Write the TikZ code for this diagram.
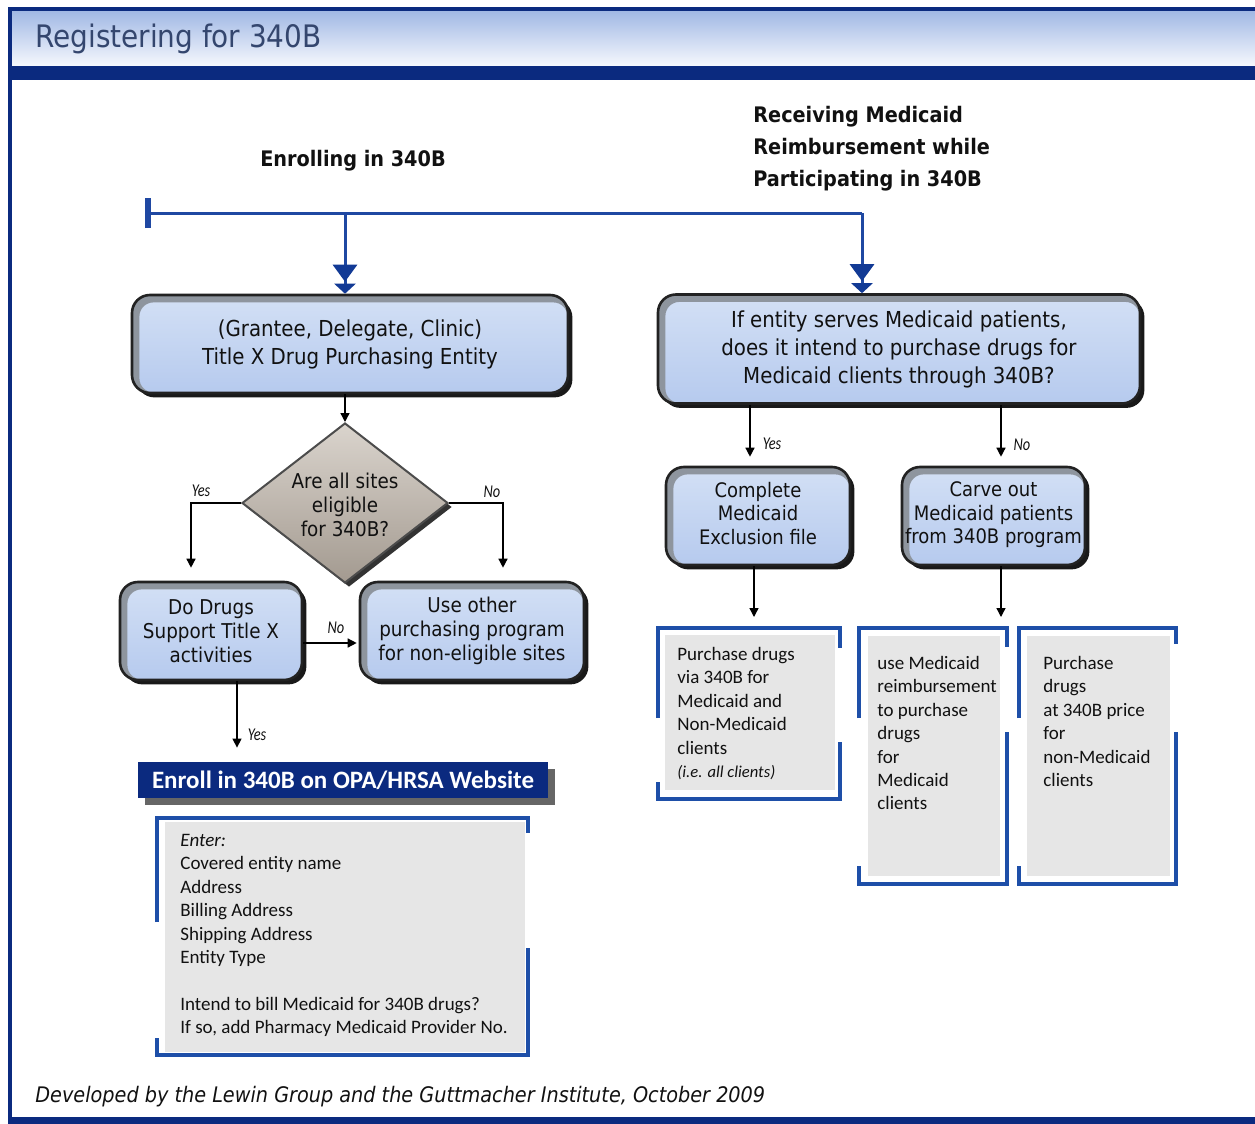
\documentclass[tikz,border=0pt]{standalone}
\usepackage{fontspec}
\setmainfont{DejaVu Sans Condensed}
\newfontfamily\calfont{Carlito}
\newfontfamily\lblfont[FakeStretch=0.8]{Carlito}
\usetikzlibrary{shapes.geometric,arrows.meta,shadows}
\definecolor{navy}{HTML}{0B2A7F}
\definecolor{bandtop}{HTML}{9FB7E4}
\definecolor{bandbot}{HTML}{F6F8FD}
\definecolor{blueline}{HTML}{1F48A2}
\definecolor{bluetip}{HTML}{123A95}
\definecolor{brkblue}{HTML}{1E4FA8}
\definecolor{panelgray}{HTML}{E6E6E6}
\definecolor{titletext}{HTML}{34466E}
\definecolor{boxtop}{HTML}{D3E0F5}
\definecolor{boxbot}{HTML}{B6CAEE}
\definecolor{boxborder}{HTML}{222222}
\definecolor{bevel}{HTML}{8E959E}
\definecolor{diatop}{HTML}{DAD4CD}
\definecolor{diabot}{HTML}{A39A90}
\definecolor{txt}{HTML}{111111}
\begin{document}
\begin{tikzpicture}[x=0.5pt,y=-0.5pt,
  fbox/.style={rounded corners=9pt, draw=boxborder, line width=1.3pt,
    top color=boxtop, bottom color=boxbot, align=center, text=txt, inner sep=1pt,
    path picture={\draw[draw=bevel, line width=4pt, rounded corners=9pt]
      ([shift={(1.7pt,-1.7pt)}]path picture bounding box.south west) rectangle
      ([shift={(1.7pt,-1.7pt)}]path picture bounding box.north east);},
    drop shadow={shadow xshift=2.2pt, shadow yshift=-2.2pt, fill=black, opacity=0.9}},
  bigtext/.style={font=\fontsize{11}{14}\selectfont},
  smalltext/.style={font=\fontsize{10.2}{12}\selectfont},
  dia/.style={diamond, draw=gray!60!black, line width=1pt, top color=diatop, bottom color=diabot,
    inner sep=0pt, drop shadow={shadow xshift=2pt, shadow yshift=-2pt, fill=black, opacity=0.8}},
  arr/.style={draw=black, line width=0.7pt, -{Triangle[width=4.5pt,length=4.5pt]}},
  bline/.style={draw=blueline, line width=1.5pt},
  dbl/.style={-{Triangle[width=12pt,length=8.5pt,sep=1pt,color=bluetip]Triangle[width=10.5pt,length=5pt,color=bluetip]}},
  brk/.style={draw=brkblue, line width=1.6pt},
  panel/.style={fill=panelgray, inner sep=0pt},
  ptext/.style={anchor=north west, align=left, inner sep=0pt, text=txt, font=\calfont\fontsize{9.5}{11.7}\selectfont},
  lbl/.style={font=\lblfont\itshape\fontsize{9}{10}\selectfont, text=txt, inner sep=0pt},
  head/.style={font=\bfseries\fontsize{10.7}{16}\selectfont, text=txt, inner sep=0pt}
]
\useasboundingbox (0,0) rectangle (1255,1124);
\fill[white] (0,0) rectangle (1255,1124);
% frame
\fill[top color=bandtop, bottom color=bandbot] (10,10) rectangle (1255,66);
\fill[navy] (8,7) rectangle (1255,11);
\fill[navy] (10,66) rectangle (1255,80);
\fill[navy] (8,7) rectangle (12,1124);
\fill[navy] (8,1117) rectangle (1255,1124);
\node[anchor=west, inner sep=0pt, text=titletext, font=\fontsize{15.5}{18}\selectfont] (title) at (35,39) {Registering for 340B};

% headings
\node[head] (h1) at (353,161) {Enrolling in 340B};
\node[head, anchor=west, align=left] (h2) at (753,149) {Receiving Medicaid\\Reimbursement while\\Participating in 340B};

% main boxes
\node[fbox, bigtext, minimum width=218pt, minimum height=49pt] (A) at (350,344) {(Grantee, Delegate, Clinic)\\Title X Drug Purchasing Entity};
\node[fbox, bigtext, minimum width=241pt, minimum height=54.5pt] (B) at (899,349) {If entity serves Medicaid patients,\\does it intend to purchase drugs for\\Medicaid clients through 340B?};

% diamond
\node[dia, minimum width=103pt, minimum height=80pt] (Q) at (345,503) {};
\node[smalltext, align=center, text=txt, inner sep=0pt] (Qt) at (345,505) {Are all sites\\eligible\\for 340B?};

\node[fbox, smalltext, minimum width=91pt, minimum height=49pt] (C) at (211,631) {Do Drugs\\Support Title X\\activities};
\node[fbox, smalltext, minimum width=112pt, minimum height=49pt] (D) at (472,631) {Use other\\purchasing program\\for non-eligible sites};
\node[fbox, font=\fontsize{10}{11.75}\selectfont, minimum width=92pt, minimum height=49pt] (E) at (758,516) {Complete\\Medicaid\\Exclusion file\\[-8.75pt]};
\node[fbox, font=\fontsize{10}{11.75}\selectfont, minimum width=91.5pt, minimum height=49pt, inner sep=0pt] (F) at (993.5,516) {Carve out\\Medicaid patients\\from 340B program\\[-8.75pt]};

% enroll banner
\node[fill=navy, text=white, font=\calfont\bfseries\fontsize{12.5}{14}\selectfont, minimum width=205pt, minimum height=18pt, inner sep=0pt,
  drop shadow={shadow xshift=3.5pt, shadow yshift=-3.5pt, fill=gray!50!black, opacity=0.8}] (R) at (343,780) {Enroll in 340B on OPA/HRSA Website};

% panels
\node[panel, minimum width=180pt, minimum height=115pt, anchor=north west] (P) at (165,822) {};
\node[ptext] (Pt) at (180,834) {\itshape Enter:\\Covered entity name\\Address\\Billing Address\\Shipping Address\\Entity Type\\[11.7pt]Intend to bill Medicaid for 340B drugs?\\If so, add Pharmacy Medicaid Provider No.};
\node[panel, minimum width=85pt, minimum height=77.5pt, anchor=north west] (G1) at (665,635) {};
\node[ptext] (G1t) at (677,647) {Purchase drugs\\via 340B for\\Medicaid and\\Non-Medicaid\\clients\\{\itshape\fontsize{8.3}{11.7}\selectfont (i.e. all clients)}};
\node[panel, minimum width=66pt, minimum height=120pt, anchor=north west] (G2) at (868,636) {};
\node[ptext] (G2t) at (877,656) {use Medicaid\\reimbursement\\to purchase\\drugs\\for\\Medicaid\\clients};
\node[panel, minimum width=71.5pt, minimum height=120pt, anchor=north west] (G3) at (1027,636) {};
\node[ptext] (G3t) at (1043,656) {Purchase\\drugs\\at 340B price\\for\\non-Medicaid\\clients};

% brackets
\draw[brk] (157,922) -- (157,818) -- (528,818) -- (528,833);
\draw[brk] (528,948) -- (528,1055) -- (157,1055) -- (157,1038);
\draw[brk] (658,718) -- (658,628) -- (840,628) -- (840,648);
\draw[brk] (840,742) -- (840,799) -- (658,799) -- (658,782);
\draw[brk] (859,718) -- (859,628) -- (1007,628) -- (1007,647);
\draw[brk] (1007,732) -- (1007,884) -- (859,884) -- (859,866);
\draw[brk] (1019,718) -- (1019,628) -- (1176,628) -- (1176,644);
\draw[brk] (1176,732) -- (1176,884) -- (1019,884) -- (1019,866);

% blue connectors
\coordinate (s) at (145,213);
\coordinate (jA) at (345,213);
\coordinate (jB) at (862,213);
\draw[bline, {Bar[width=15pt,line width=3pt]}-] (s) -- (jB);
\draw[bline, dbl] (jA) -- (jA |- A.north);
\draw[bline, dbl] (jB) -- (jB |- B.north);

% black connectors
\draw[arr] (Q.north |- A.south) -- (Q.north);
\draw[arr, shorten >=6.5pt] (Q.west) -| ([xshift=-10pt]C.north);
\draw[arr, shorten >=6.5pt] (Q.east) -| ([xshift=15.5pt]D.north);
\draw[arr, shorten >=1pt] ([yshift=-6pt]C.east) -- ([yshift=-6pt]D.west);
\draw[arr, shorten >=7pt] ([xshift=13pt]C.south) -- ([xshift=13pt]C.south |- R.north);
\coordinate (xE) at (750,0);
\coordinate (xF) at (1001,0);
\coordinate (xG) at (754,0);
\draw[arr, shorten >=4.5pt] (B.south -| xE) -- (E.north -| xE);
\draw[arr, shorten >=4.5pt] (B.south -| xF) -- (F.north -| xF);
\draw[arr, shorten >=9pt] (E.south -| xG) -- (G1.north -| xG);
\draw[arr, shorten >=9.5pt] (F.south -| xF) -- (G2.north -| xF);

% labels
\node[lbl] (l1) at (201,491) {Yes};
\node[lbl] (l2) at (492,492) {No};
\node[lbl] (l3) at (336,628) {No};
\node[lbl] (l4) at (257,735) {Yes};
\node[lbl] (l5) at (772,444) {Yes};
\node[lbl] (l6) at (1022,445) {No};

% footer
\node[anchor=west, inner sep=0pt, text=txt, font=\itshape\fontsize{10.7}{12}\selectfont] (foot) at (35,1097) {Developed by the Lewin Group and the Guttmacher Institute, October 2009};
\end{tikzpicture}
\end{document}
